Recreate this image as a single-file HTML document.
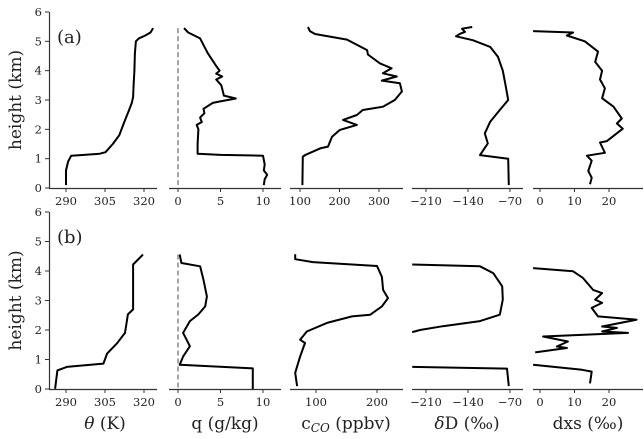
<!DOCTYPE html>
<html><head><meta charset="utf-8"><style>
body{margin:0;background:#fff}
svg text{font-family:"DejaVu Serif","Liberation Serif",serif;fill:#222}
</style></head><body>
<svg id="chart" width="644" height="434" viewBox="0 0 644 434" xmlns="http://www.w3.org/2000/svg"></svg>
<script>
const heightTicks=[0,1,2,3,4,5,6];
const thetaTicks=[290,305,320];
const qTicks=[0,5,10];
const coTicksA=[100,200,300];
const coTicksB=[100,200];
const dDTicks=[-210,-140,-70];
const dxsTicks=[0,10,20];
const xLabels=["θ (K)","q (g/kg)","c_CO (ppbv)","δD (‰)","dxs (‰)"];
// profiles: [height km, value]
const thetaA=[[0.1,290],[0.6,290],[0.9,290.8],[1.1,292],[1.13,297],[1.17,303],[1.22,305.2],[1.5,308],[1.8,310.5],[2.2,312.2],[2.6,314],[2.9,315.3],[3.1,315.8],[3.5,316],[4.0,316.3],[4.6,316.5],[5.0,316.9],[5.1,318],[5.2,320.5],[5.3,322.5],[5.45,323.5]];
const qA=[[0.1,10.1],[0.3,10.2],[0.45,10.5],[0.6,10.1],[0.8,10.2],[1.1,10],[1.13,5],[1.17,2.3],[1.5,2.3],[2.0,2.4],[2.15,2.2],[2.25,2.8],[2.4,2.6],[2.55,3.1],[2.7,3.0],[2.9,4.1],[2.95,4.9],[3.05,6.8],[3.15,5.4],[3.5,5.1],[3.7,4.5],[3.8,5.2],[3.9,4.5],[4.0,4.9],[4.2,4.4],[4.6,3.5],[5.1,2.6],[5.3,1.2],[5.45,0.7]];
const coA=[[0.1,106],[1.07,107],[1.12,113],[1.35,151],[1.41,171],[1.75,181],[1.98,201],[2.15,244],[2.32,209],[2.49,244],[2.66,259],[2.77,310],[3.0,340],[3.29,358],[3.57,353],[3.66,307],[3.8,345],[3.91,310],[4.08,332],[4.25,302],[4.55,272],[4.7,270],[5.06,219],[5.25,138],[5.35,125],[5.49,120]];
const dDA=[[0.1,-72],[1.0,-73],[1.12,-120],[1.52,-107],[1.86,-112],[2.26,-103],[2.66,-87],[3.0,-73],[3.57,-78],[4.0,-82],[4.47,-90],[4.81,-103],[5.04,-132],[5.17,-160],[5.26,-153],[5.32,-145],[5.43,-150],[5.49,-133]];
const dxsA=[[0.13,14.5],[0.35,15],[0.58,14],[0.93,15],[1.1,13.6],[1.2,18.8],[1.55,17.4],[1.6,19.4],[2.02,24],[2.2,22.3],[2.37,23.7],[2.77,21.3],[3.06,18],[3.4,18.8],[3.7,17.4],[4.0,18],[4.3,16],[4.65,16.8],[5.0,13],[5.2,7.8],[5.3,9.6],[5.35,-2]];
const thetaB=[[0.01,285.8],[0.63,286.7],[0.75,290.3],[0.86,304.4],[1.2,305.8],[1.55,309.6],[1.9,312.7],[2.53,313.8],[2.7,315.8],[4.22,315.8],[4.56,319.6]];
const qB=[[0,8.8],[0.7,8.8],[0.82,0.2],[1.1,0.6],[1.45,1.4],[1.9,0.6],[2.3,1.4],[2.53,2.4],[2.8,3.2],[3.14,3.4],[3.7,3.0],[4.16,2.6],[4.27,0.4],[4.56,0.2]];
const coB=[[0.1,69],[0.55,66],[1.1,74],[1.56,82],[1.67,74],[1.95,85],[2.24,118],[2.46,159],[2.52,189],[2.8,208],[3.08,218],[3.36,210],[3.8,208],[4.17,200],[4.3,95],[4.4,66],[4.57,66]];
const dDB=[[0.1,-72],[0.69,-75],[0.75,-233],null,[1.93,-233],[2.0,-220],[2.13,-182],[2.3,-120],[2.52,-87],[3.03,-82],[3.48,-83],[3.93,-98],[4.16,-120],[4.22,-233]];
const dxsB=[[0.19,14.5],[0.59,15],[0.65,12.2],[0.82,-2],null,[1.24,-1.4],[1.39,7.8],[1.44,4.9],[1.61,8.1],[1.78,0.9],[1.9,25.5],[1.95,18],[2.07,22.3],[2.12,18],[2.35,28],[2.46,16.8],[2.75,15],[2.92,18],[3.03,16],[3.25,18],[3.36,15.4],[3.76,12.5],[3.99,9.6],[4.1,-2]];

const NS="http://www.w3.org/2000/svg";
const svg=document.getElementById('chart');
function mk(tag,attrs,parent){const e=document.createElementNS(NS,tag);for(const k in attrs)e.setAttribute(k,attrs[k]);(parent||svg).appendChild(e);return e;}
const cols=[{x0:49,x1:157,d:[283.46,325]},{x0:169,x1:281,d:[-1.06,12.12]},{x0:290,x1:403,dA:[74.7,360.8],dB:[57.4,242.6]},{x0:412,x1:523,d:[-233.3,-48.3]},{x0:533,x1:643,d:[-2.03,29.86]}];
const rows=[{y0:12,y1:188,name:'a',data:[thetaA,qA,coA,dDA,dxsA],top:5.45},{y0:212,y1:389,name:'b',data:[thetaB,qB,coB,dDB,dxsB],top:4.56}];
const ticksA=[thetaTicks,qTicks,coTicksA,dDTicks,dxsTicks];
const ticksB=[thetaTicks,qTicks,coTicksB,dDTicks,dxsTicks];
rows.forEach((r,ri)=>{
  const ys=h=>r.y1-(h/6)*(r.y1-r.y0);
  cols.forEach((c,ci)=>{
    const dom=c.d||(ri==0?c.dA:c.dB);
    const xs=v=>c.x0+(v-dom[0])/(dom[1]-dom[0])*(c.x1-c.x0);
    const g=mk('g',{});
    
    
    const cid='clip'+ri+ci;
    const cp=mk('clipPath',{id:cid},g);mk('rect',{x:c.x0,y:r.y0,width:c.x1-c.x0,height:r.y1-r.y0},cp);
    const ax=mk('line',{x1:c.x0,x2:c.x1,y1:r.y1+0.5,y2:r.y1+0.5,stroke:'#333','stroke-width':1.2},g);
    
    
    (ri==0?ticksA:ticksB)[ci].forEach(t=>{
      const x=xs(t);
      mk('line',{x1:x,x2:x,y1:r.y1,y2:r.y1+4,stroke:'#333'},g);
      const tx=mk('text',{x:x,y:r.y1+17,'text-anchor':'middle','font-size':11.5},g);
      tx.textContent=String(t).replace('-','−');
      
      
    });
    if(ci==0){
      mk('line',{x1:c.x0+0.5,x2:c.x0+0.5,y1:r.y0,y2:r.y1+1,stroke:'#333','stroke-width':1.2},g);
      heightTicks.forEach(t=>{
        const y=ys(t);
        mk('line',{x1:c.x0-4,x2:c.x0,y1:y,y2:y,stroke:'#333'},g);
        const tx=mk('text',{x:c.x0-7,y:y+4,'text-anchor':'end','font-size':11.5},g);
        tx.textContent=t;
        
        
      });
    }
    if(ci==1){
      const dl=mk('line',{x1:xs(0),x2:xs(0),y1:ys(r.top),y2:r.y1,stroke:'#888','stroke-width':1.5,'stroke-dasharray':'5,3'},g);
      
      
    }
    let d='',pen=false;
    r.data[ci].forEach(p=>{if(!p){pen=false;return;}d+=(pen?'L':'M')+xs(p[1]).toFixed(1)+','+ys(p[0]).toFixed(1);pen=true;});
    const pth=mk('path',{d:d,fill:'none',stroke:'#000','stroke-width':2,'stroke-linejoin':'round','clip-path':'url(#'+cid+')'},g);
    
    
  });
  const yl=mk('text',{x:0,y:0,transform:'translate(21,'+((r.y0+r.y1)/2)+') rotate(-90)','text-anchor':'middle','font-size':17});
  yl.textContent='height (km)';
  
  
  const pl=mk('text',{x:57,y:r.y0+31,'font-size':18});
  pl.textContent='('+r.name+')';
  
  
});
const lx=[105,225,346,467,588];
xLabels.forEach((l,i)=>{
  const t=mk('text',{x:lx[i],y:429,'text-anchor':'middle','font-size':17});
  if(i==0){t.innerHTML='<tspan font-style="italic">θ</tspan> (K)';}
  else if(i==2){t.innerHTML='c<tspan font-size="12" font-style="italic" dy="3">CO</tspan><tspan dy="-3"> (ppbv)</tspan>';}
  else if(i==3){t.innerHTML='<tspan font-style="italic">δ</tspan>D (‰)';}
  else t.textContent=l;
  
  
});
</script>
</body></html>
